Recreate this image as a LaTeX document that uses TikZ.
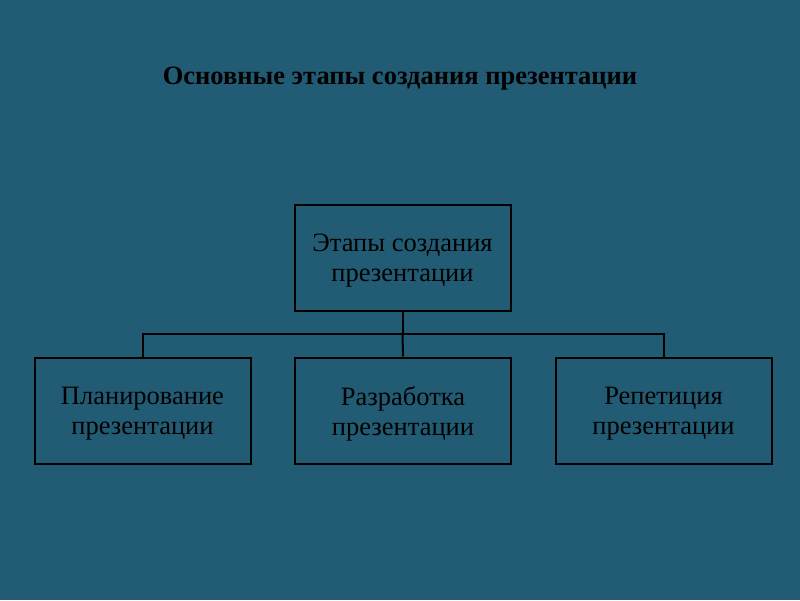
\documentclass[tikz,border=0pt]{standalone}
\usepackage{fontspec}
\setmainfont{Liberation Serif}
\usetikzlibrary{positioning,calc}
\definecolor{slidebg}{HTML}{225C74}

\begin{document}
\begin{tikzpicture}[
  x=1pt, y=-1pt,
  font=\fontsize{26.5}{30}\selectfont,
  stage/.style={rectangle, draw=black, line width=2pt, minimum width=216pt, minimum height=106pt, inner sep=0pt,
    label={[align=center, yshift=-3pt]center:#1}},
  tree/.style={draw=black, line width=2pt}
]
\fill[slidebg] (0,0) rectangle (800,600);
\useasboundingbox (0,0) rectangle (800,600);

\node[font=\bfseries\fontsize{26.5}{30}\selectfont] (title) at (400,79) {Основные этапы создания презентации};

\node[stage={Этапы создания\\презентации}] (root) at (402.5,257.5) {};
\node[stage={Планирование\\презентации}] (plan) at (142.5,410.5) {};
\node[stage={Разработка\\презентации}] (dev) at (403,410.5) {};
\node[stage={Репетиция\\презентации}] (rep) at (663.5,410.5) {};

\coordinate (bus) at ($(root.south)+(0,22)$);
\draw[tree] (root.south) -- (bus);
\draw[tree] (plan.north) |- (bus) -| (rep.north);
\draw[tree] (bus) -- (dev.north);
\end{tikzpicture}
\end{document}
